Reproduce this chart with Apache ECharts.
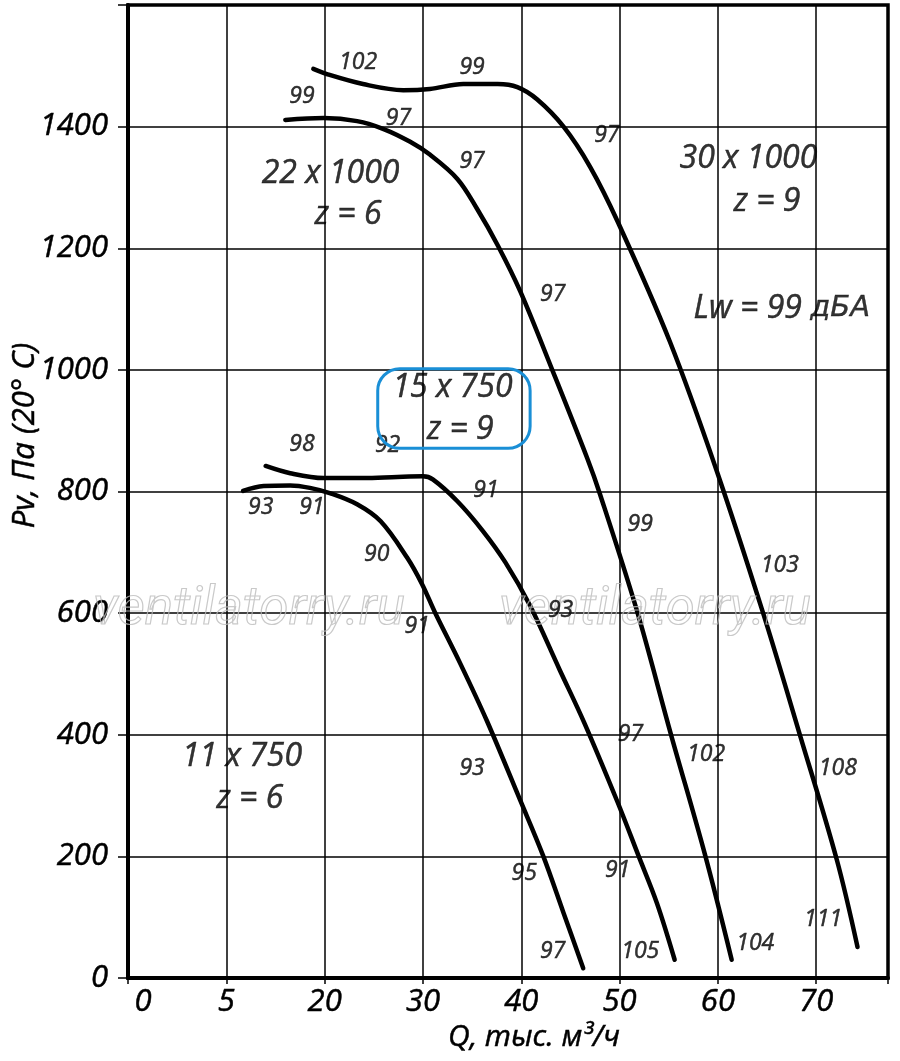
<!DOCTYPE html>
<html>
<head>
<meta charset="utf-8">
<script src="https://cdn.jsdelivr.net/npm/echarts@6/dist/echarts.min.js"></script>
<style>
html, body { margin: 0; padding: 0; background: #fff; }
#chart { width: 900px; height: 1061px; }
</style>
</head>
<body>
<div id="chart"></div>
<script>
// fan curves: Q (thousand m3/h) and Pv (Pa)
var q_11x750 = [11.7, 13.8, 16.5, 18.5, 20.6, 23.3, 25.7, 28.4, 29.9, 31.2, 33.8, 36.5, 39.9, 42.2, 44.3, 46.3];
var p_11x750 = [801, 809, 810, 806, 797, 779, 751, 691, 648, 602, 517, 423, 292, 202, 107, 16];

var q_15x750 = [14.0, 16.5, 19.9, 23.9, 27.4, 30.0, 31.0, 33.5, 36.1, 38.4, 40.9, 43.9, 46.4, 49.8, 51.9, 53.8, 55.6];
var p_15x750 = [842, 830, 822, 822, 824, 825, 820, 784, 735, 683, 612, 507, 420, 289, 202, 123, 30];

var q_22x1000 = [16.0, 19.9, 23.3, 26.0, 28.7, 30.7, 33.5, 35.5, 37.6, 39.9, 43.2, 46.7, 48.0, 51.8, 55.2, 58.7, 61.4];
var p_22x1000 = [1411, 1414, 1409, 1396, 1375, 1354, 1314, 1265, 1205, 1129, 998, 855, 796, 602, 402, 202, 30];

var q_30x1000 = [18.85, 20.3, 23.9, 28.0, 30.7, 34.1, 37.6, 39.6, 41.6, 44.3, 47.0, 49.8, 55.1, 59.9, 64.6, 68.3, 72.1, 74.2];
var p_30x1000 = [1495, 1486, 1470, 1460, 1462, 1470, 1470, 1465, 1445, 1400, 1334, 1244, 1047, 833, 600, 402, 194, 51];

// tick labels of the Q axis (one per grid line)
var xTickLabels = ['0', '5', '20', '30', '40', '50', '60', '70'];

// noise level marks along the curves
var noteText = ['102', '99', '99', '97', '97', '97', '97', '98', '92', '91', '93', '91', '90', '99', '103', '93', '91', '97', '102', '93', '108', '95', '91', '111', '97', '105', '104'];
var noteQ = [23.4, 35.0, 17.7, 27.5, 48.7, 35.0, 43.2, 17.7, 26.4, 36.4, 13.5, 18.7, 25.3, 52.1, 66.3, 44.0, 29.4, 51.1, 58.8, 35.0, 72.2, 40.3, 49.8, 70.7, 43.2, 52.1, 63.8];
var noteP = [1506, 1498, 1449, 1414, 1386, 1342, 1124, 878, 876, 801, 774, 774, 697, 746, 679, 604, 578, 400, 367, 344, 344, 172, 177, 97, 43, 43, 57];

// fan size captions
var capText = ['30 x 1000', 'z = 9', '22 x 1000', 'z = 6', 'Lw = 99 {c|дБА}', '15 x 750', 'z = 9', '11 x 750', 'z = 6'];
var capQ = [63.1, 65.0, 20.6, 22.4, 66.5, 33.0, 33.8, 11.6, 12.4];
var capP = [1347, 1276, 1322, 1255, 1101, 970, 902, 363, 295];

var markText = ['ventilatorry.ru', 'ventilatorry.ru'];
var markQ = [12.3, 53.6];
var markP = [604, 604];

// blue frame round "15 x 750"
var boxQ = [25.4, 40.9];
var boxP = [871, 1002];

var FONT = "'Open Sans', sans-serif";

function zip(q, p) {
    var out = [];
    for (var i = 0; i < q.length; i++) out.push([q[i], p[i]]);
    return out;
}
function pts(t, q, p) {
    var out = [];
    for (var i = 0; i < t.length; i++) out.push({ name: t[i], value: [q[i], p[i]] });
    return out;
}
function curve(name, q, p) {
    return {
        name: name, type: 'line', data: zip(q, p),
        smooth: 0.35, symbol: 'none', z: 5,
        lineStyle: { color: '#000', width: 4.5, cap: 'round', join: 'round' }
    };
}
function textSeries(data, size, family, extra) {
    var label = {
        show: true, position: 'inside', formatter: function (p) { return p.name; },
        fontSize: size, fontStyle: 'italic', fontFamily: family, color: '#000',
        textBorderColor: '#000', textBorderWidth: 0.5
    };
    for (var k in extra) label[k] = extra[k];
    return {
        type: 'scatter', data: data, symbolSize: 1, silent: true, z: 6,
        itemStyle: { color: 'rgba(0,0,0,0)' }, label: label
    };
}

var txt = { fontStyle: 'italic', fontFamily: FONT, color: '#000', textBorderColor: '#000', textBorderWidth: 0.5 };
function withSize(s, extra) {
    var o = { fontSize: s };
    for (var k in txt) o[k] = txt[k];
    for (var j in extra) o[j] = extra[j];
    return o;
}

var myChart = echarts.init(document.getElementById('chart'));
var xLabel = withSize(31, {
    margin: 9,
    formatter: function (v) {
        var i = Math.round(v / 10);
        if (Math.abs(v - i * 10) > 0.01 || i >= xTickLabels.length) return '';
        return i === 0 ? '{z|' + xTickLabels[0] + '}' : xTickLabels[i];
    },
    rich: { z: withSize(31, { padding: [0, 0, 0, 30] }) }
});
var yLabel = withSize(31, {
    margin: 20,
    formatter: function (v) { return v >= 1600 ? '' : String(v); }
});

var option = {
    animation: false,
    grid: {
        left: 128, right: 12, top: 5, bottom: 83, outerBoundsMode: 'none', containLabel: false,
        show: true, borderColor: '#000', borderWidth: 3.5
    },
    xAxis: {
        type: 'value', min: 0, max: 77.3, interval: 10,
        axisLine: { lineStyle: { color: '#000', width: 4 } },
        axisTick: { length: 6, lineStyle: { color: '#000', width: 1.5 } },
        splitLine: { lineStyle: { color: '#000', width: 1.5 } },
        axisLabel: xLabel,
        name: 'Q, тыс. м³/ч', nameLocation: 'middle', nameGap: 44, nameMoveOverlap: false,
        nameTextStyle: withSize(30, { padding: [0, 0, 0, 52] })
    },
    yAxis: {
        type: 'value', min: 0, max: 1600, interval: 200,
        axisLine: { show: true, lineStyle: { color: '#000', width: 4 } },
        axisTick: { show: true, length: 10, lineStyle: { color: '#000', width: 1.5 } },
        splitLine: { lineStyle: { color: '#000', width: 1.5 } },
        axisLabel: yLabel,
        name: 'Pv, Па (20° C)', nameLocation: 'middle', nameGap: 87, nameMoveOverlap: false,
        nameTextStyle: withSize(31, { padding: [0, 0, 0, 112] })
    },
    series: [
        textSeries(pts(markText, markQ, markP), 53, 'Roboto', { color: 'rgba(0,0,0,0)', textBorderColor: '#bbbbbb', textBorderWidth: 1.2 }),
        curve('11 x 750', q_11x750, p_11x750),
        curve('15 x 750', q_15x750, p_15x750),
        curve('22 x 1000', q_22x1000, p_22x1000),
        curve('30 x 1000', q_30x1000, p_30x1000),
        textSeries(pts(noteText, noteQ, noteP), 23, FONT, {}),
        textSeries(pts(capText, capQ, capP), 32, FONT, {
            rich: { c: { fontSize: 29, fontStyle: 'oblique', fontFamily: "'DejaVu Sans', sans-serif", color: '#000', textBorderColor: '#000', textBorderWidth: 0.4 } }
        })
    ]
};
myChart.setOption(option);

var a = myChart.convertToPixel({ gridIndex: 0 }, [boxQ[0], boxP[1]]);
var b = myChart.convertToPixel({ gridIndex: 0 }, [boxQ[1], boxP[0]]);
myChart.setOption({
    graphic: [{
        type: 'rect', z: 10, silent: true,
        shape: { x: a[0], y: a[1], width: b[0] - a[0], height: b[1] - a[1], r: 22 },
        style: { fill: 'none', stroke: '#1a8fd6', lineWidth: 3 }
    }]
});
</script>
</body>
</html>
